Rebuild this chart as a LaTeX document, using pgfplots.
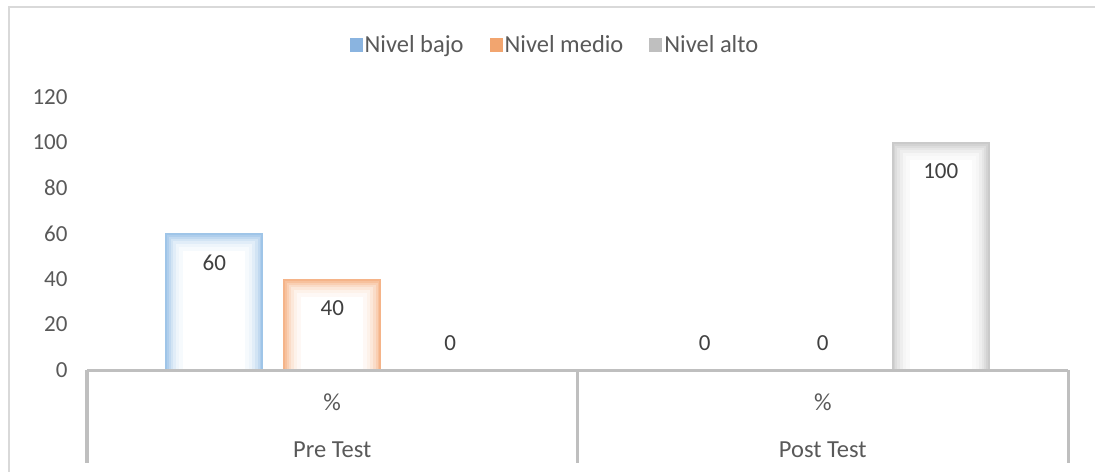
\documentclass[border=0pt]{standalone}
\usepackage{pgfplots}
\pgfplotsset{compat=1.18}
\usepackage{fontspec}
\setmainfont{Carlito}
\definecolor{blueE}{HTML}{94BEE6}
\definecolor{orangeE}{HTML}{F4AC7C}
\definecolor{grayE}{HTML}{C4C4C4}
\definecolor{legblue}{HTML}{8AB4E0}
\definecolor{legorange}{HTML}{F2A56F}
\definecolor{leggray}{HTML}{BFBFBF}
\definecolor{axisgray}{HTML}{BFBFBF}
\definecolor{framegray}{HTML}{D9D9D9}
\definecolor{labgray}{HTML}{595959}
\definecolor{datgray}{HTML}{404040}
\newcommand\cf{\fontsize{23bp}{27bp}\selectfont}
\newcommand\tf{\fontsize{24.5bp}{29bp}\selectfont}
% one glow layer: #1 colour, #2 shift, #3 stroke width (number, bp), #4 coords
\newcommand{\glowlayer}[4]{%
\pgfmathsetmacro\bw{98-#3}\pgfmathsetmacro\ys{-#3/2}%
\edef\temp{\noexpand\addplot[ybar, bar width=\bw bp, bar shift=#2, yshift=\ys bp, fill=none, draw=#1, line width=#3bp, forget plot] coordinates {#4};}%
\temp
}
\newcommand{\glow}[3]{%
\addplot[ybar, bar width=98bp, bar shift=#2, fill=white, draw=none, forget plot] coordinates {#3};
\glowlayer{#1!8}{#2}{18}{#3}
\glowlayer{#1!16}{#2}{14}{#3}
\glowlayer{#1!28}{#2}{11}{#3}
\glowlayer{#1!42}{#2}{8}{#3}
\glowlayer{#1!58}{#2}{5.5}{#3}
\glowlayer{#1!75}{#2}{3.5}{#3}
\glowlayer{#1!90}{#2}{1.8}{#3}
}
\newcommand{\glowlabel}[2]{%
\addplot[ybar, bar width=98bp, bar shift=#1, draw=none, fill=none, forget plot,
  visualization depends on={rawy \as \rawy},
  nodes near coords,
  every node near coord/.append style={font=\cf, text=datgray, anchor=center, xshift=#1,
    yshift={ifthenelse(\rawy>0,-29,27)}}] coordinates {#2};
}
\begin{document}
\begin{tikzpicture}
\useasboundingbox (-87bp,-102bp) rectangle (1008bp,370bp);
\draw[framegray, line width=2bp] (-78bp,-110bp) -- (-78bp,363bp) -- (1020bp,363bp);
\begin{axis}[
  at={(0,0)}, anchor=south west,
  scale only axis, width=981bp, height=273bp,
  xmin=-0.5, xmax=1.5, ymin=0, ymax=120,
  axis on top,
  separate axis lines,
  axis x line*=bottom, axis y line*=left,
  x axis line style={draw=axisgray, line width=3bp, -},
  y axis line style={draw=none},
  ytick={0,20,40,60,80,100,120},
  xtick={0,1}, xticklabels={\%,\%},
  major tick length=0pt,
  tick style={draw=none},
  ticklabel style={font=\cf, text=labgray},
  xticklabel style={font=\tf},
  /pgf/number format/assume math mode=true,
  yticklabel style={xshift=-16bp},
  xticklabel style={anchor=center, yshift=-32bp},
  legend columns=-1,
  legend style={at={(0.477,1.19)}, anchor=center, draw=none, fill=none,
    font=\tf, text=labgray,
    /tikz/every even column/.append style={column sep=24bp}},
  legend image code/.code={\fill[#1, draw=none] (0bp,-7bp) rectangle (13bp,7bp);},
]
\glow{blueE}{-118bp}{(0,60) (1,0)}
\glow{orangeE}{0bp}{(0,40) (1,0)}
\glow{grayE}{118bp}{(0,0) (1,100)}
\glowlabel{-118bp}{(0,60) (1,0)}
\glowlabel{0bp}{(0,40) (1,0)}
\glowlabel{118bp}{(0,0) (1,100)}
\addlegendimage{fill=legblue}
\addlegendentry{Nivel bajo}
\addlegendimage{fill=legorange}
\addlegendentry{Nivel medio}
\addlegendimage{fill=leggray}
\addlegendentry{Nivel alto}
\coordinate (s0) at (axis cs:-0.5,0);
\coordinate (s1) at (axis cs:0.5,0);
\coordinate (s2) at (axis cs:1.5,0);
\coordinate (c0) at (axis cs:0,0);
\coordinate (c1) at (axis cs:1,0);
\end{axis}
\foreach \s in {s0,s1,s2}{\draw[axisgray, line width=3bp] (\s) -- ++(0,-93bp);}
\path (c0) ++(0,-80bp) node[font=\tf, text=labgray] {Pre Test};
\path (c1) ++(0,-80bp) node[font=\tf, text=labgray] {Post Test};
\end{tikzpicture}
\end{document}
